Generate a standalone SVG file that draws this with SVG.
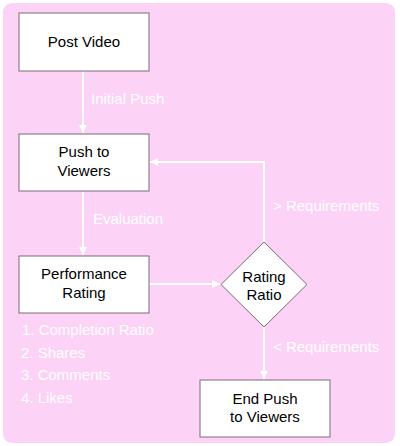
<svg xmlns="http://www.w3.org/2000/svg" width="400" height="446" viewBox="0 0 400 446">
<defs>
<style>
.node rect, .node polygon { fill: #ffffff; stroke: #7a6a78; stroke-width: 1; }
.node text { font-family: "Liberation Sans", Arial, sans-serif; font-size: 15px; fill: #000; text-anchor: middle; }
.edge { stroke: #ffffff; stroke-width: 2; fill: none; }
.lbl { font-family: "Liberation Sans", Arial, sans-serif; font-size: 15px; fill: #ffffff; }
</style>
<marker id="ah" viewBox="0 0 10 10" refX="10" refY="5" markerWidth="10" markerHeight="8" markerUnits="userSpaceOnUse" orient="auto">
<path d="M0,0 L10,5 L0,10 z" fill="#ffffff"/>
</marker>
</defs>
<rect x="3" y="3" width="392" height="440" rx="9" fill="#fcd3f7"/>
<g id="connectors">
<line class="edge" x1="83" y1="71" x2="83" y2="133" marker-end="url(#ah)"/>
<line class="edge" x1="83" y1="192" x2="83" y2="255" marker-end="url(#ah)"/>
<line class="edge" x1="149" y1="284" x2="220" y2="284" marker-end="url(#ah)"/>
<polyline class="edge" points="264,242 264,162 150,162" marker-end="url(#ah)"/>
<line class="edge" x1="264" y1="327" x2="264" y2="379" marker-end="url(#ah)"/>
<text class="lbl" x="91" y="104">Initial Push</text>
<text class="lbl" x="93" y="224">Evaluation</text>
<text class="lbl" x="273" y="211">&gt; Requirements</text>
<text class="lbl" x="273" y="352">&lt; Requirements</text>
</g>
<g id="post-video" class="node">
<rect x="19" y="13" width="130" height="58"/>
<text x="84" y="47">Post Video</text>
</g>
<g id="push-to-viewers" class="node">
<rect x="19" y="134" width="130" height="57"/>
<text x="84" y="157">Push to</text>
<text x="84" y="176">Viewers</text>
</g>
<g id="performance-rating" class="node">
<rect x="19" y="256" width="130" height="57"/>
<text x="84" y="279">Performance</text>
<text x="84" y="298">Rating</text>
</g>
<g id="rating-ratio" class="node">
<polygon points="264,242 307,284.5 264,327 221,284.5"/>
<text x="264" y="282">Rating</text>
<text x="264" y="300">Ratio</text>
</g>
<g id="end-push" class="node">
<rect x="200" y="380" width="130" height="57"/>
<text x="265" y="404">End Push</text>
<text x="265" y="422">to Viewers</text>
</g>
<g id="metrics">
<text class="lbl" x="22" y="335">1. Completion Ratio</text>
<text class="lbl" x="21" y="358">2. Shares</text>
<text class="lbl" x="21" y="380">3. Comments</text>
<text class="lbl" x="21" y="403">4. Likes</text>
</g>
</svg>
